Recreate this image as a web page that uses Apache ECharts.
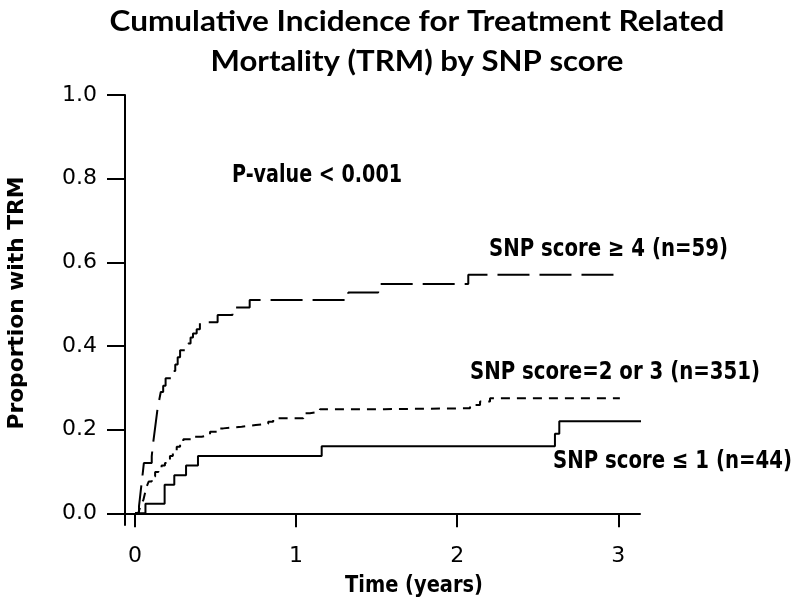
<!DOCTYPE html>
<html>
<head>
<meta charset="utf-8">
<script src="https://cdn.jsdelivr.net/npm/echarts@6/dist/echarts.min.js"></script>
<style>html,body{margin:0;padding:0;background:#fff;}#c{width:800px;height:610px;}</style>
</head>
<body>
<div id="c"></div>
<script>
// ---- data ----
const xTicks = [0, 1, 2, 3];
const yTicks = [0, 0.2, 0.4, 0.6, 0.8, 1.0];

// SNP score <= 1 (n=44), solid
const tLow = [0, 0.065, 0.184, 0.244, 0.317, 0.391, 1.159, 2.607, 2.634, 3.27];
const pLow = [0, 0.023, 0.068, 0.091, 0.114, 0.137, 0.160, 0.190, 0.220, 0.220];

// SNP score = 2 or 3 (n=351), short dashes
const tMid = [0, 0.02, 0.03, 0.04, 0.052, 0.062, 0.073, 0.085, 0.104, 0.125, 0.145, 0.165, 0.186, 0.2, 0.217, 0.235, 0.259, 0.28, 0.3, 0.352, 0.414, 0.466, 0.507, 0.548, 0.662, 0.75, 0.827, 0.858, 1.045, 1.086, 1.148, 1.55, 2.08, 2.142, 2.204, 3.01];
const pMid = [0, 0.003, 0.012, 0.022, 0.032, 0.048, 0.064, 0.076, 0.088, 0.099, 0.108, 0.114, 0.120, 0.128, 0.137, 0.148, 0.159, 0.168, 0.177, 0.183, 0.187, 0.195, 0.203, 0.207, 0.211, 0.214, 0.219, 0.227, 0.239, 0.243, 0.249, 0.251, 0.259, 0.267, 0.275, 0.275];

// SNP score >= 4 (n=59), long dashes
const tHigh = [0, 0.025, 0.03, 0.035, 0.04, 0.045, 0.05, 0.055, 0.104, 0.11, 0.12, 0.13, 0.14, 0.15, 0.16, 0.175, 0.19, 0.234, 0.25, 0.265, 0.28, 0.33, 0.345, 0.36, 0.383, 0.403, 0.513, 0.605, 0.712, 1.324, 1.51, 2.069, 3.021];
const pHigh = [0, 0.017, 0.034, 0.051, 0.068, 0.085, 0.102, 0.120, 0.136, 0.160, 0.190, 0.220, 0.250, 0.270, 0.290, 0.305, 0.323, 0.340, 0.356, 0.373, 0.390, 0.406, 0.420, 0.430, 0.440, 0.457, 0.474, 0.492, 0.510, 0.528, 0.548, 0.570, 0.570];

const titleLines = ['Cumulative Incidence for Treatment Related', 'Mortality (TRM) by SNP score'];
const xName = 'Time (years)';
const yName = 'Proportion with TRM';
const pText = 'P-value < 0.001';
const labHigh = 'SNP score \u2265 4 (n=59)';
const labMid = 'SNP score=2 or 3 (n=351)';
const labLow = 'SNP score \u2264 1 (n=44)';

// ---- helpers ----
const mctx = document.createElement('canvas').getContext('2d');
function fit(text, font, w) { mctx.font = font; return w / mctx.measureText(text).width; }
function zip(a, b) { return a.map((v, i) => [v, b[i]]); }
function txt(text, font, cx, cy, w, align, rot) {
  return {
    type: 'text', x: cx, y: cy, rotation: rot || 0,
    scaleX: fit(text, font, w), scaleY: 1,
    style: { text: text, font: font, fill: '#000', textAlign: align || 'center', textVerticalAlign: 'middle' },
    silent: true, z: 10
  };
}

const chart = echarts.init(document.getElementById('c'), null, { renderer: 'canvas' });
const titleFont = 'bold 28px Lato';
const annFont = 'bold 25px "DejaVu Sans"';
const xNameFont = 'bold 23px "DejaVu Sans"';
const yNameFont = 'bold 22px "DejaVu Sans"';

const lineBase = { type: 'line', step: 'end', symbol: 'none', clip: false, silent: true, animation: false };

chart.setOption({
  animation: false,
  backgroundColor: '#fff',
  grid: { left: 125, right: 160, top: 95, bottom: 85, containLabel: false, outerBoundsMode: 'none' },
  xAxis: {
    type: 'value', min: -0.062, max: 3.135,
    axisLine: { show: true, onZero: true, lineStyle: { color: '#000', width: 2 } },
    axisTick: { show: true, customValues: xTicks, length: 14, lineStyle: { color: '#000', width: 2 } },
    axisLabel: { customValues: xTicks, margin: 20, fontSize: 22, fontFamily: 'DejaVu Sans', color: '#000', formatter: v => String(v) },
    splitLine: { show: false }
  },
  yAxis: {
    type: 'value', min: -0.028, max: 1.0,
    axisLine: { show: true, onZero: false, lineStyle: { color: '#000', width: 2 } },
    axisTick: { show: true, customValues: yTicks, length: 18, lineStyle: { color: '#000', width: 2 } },
    axisLabel: { customValues: yTicks, margin: 28, fontSize: 22, fontFamily: 'DejaVu Sans', color: '#000', formatter: v => v.toFixed(1) },
    splitLine: { show: false }
  },
  series: [
    Object.assign({}, lineBase, { name: labLow, data: zip(tLow, pLow), lineStyle: { color: '#000', width: 2, type: 'solid' } }),
    Object.assign({}, lineBase, { name: labMid, data: zip(tMid, pMid), lineStyle: { color: '#000', width: 2, type: [9, 7] } }),
    Object.assign({}, lineBase, { name: labHigh, data: zip(tHigh, pHigh), lineStyle: { color: '#000', width: 2, type: [32, 10] } })
  ],
  graphic: [
    txt(titleLines[0], titleFont, 417, 22, 615),
    txt(titleLines[1], titleFont, 417, 62, 413),
    txt(pText, annFont, 232, 175, 170, 'left'),
    txt(labHigh, annFont, 489, 249, 239, 'left'),
    txt(labMid, annFont, 470, 372, 290, 'left'),
    txt(labLow, annFont, 553, 461, 239, 'left'),
    txt(xName, xNameFont, 414, 586, 138),
    txt(yName, yNameFont, 17, 303, 253, 'center', Math.PI / 2)
  ]
});
</script>
</body>
</html>
